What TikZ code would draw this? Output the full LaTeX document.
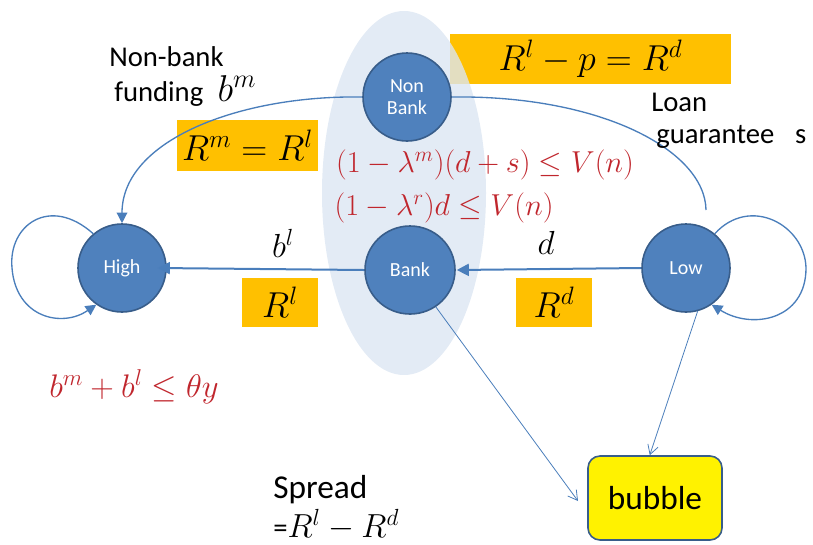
\RequirePackage{fix-cm}
\documentclass[tikz,border=0pt]{standalone}
\usepackage{fontspec}
\setmainfont{Carlito}
\setsansfont{Carlito}
\usetikzlibrary{arrows.meta,shapes.geometric}
\definecolor{nodeblue}{HTML}{4F81BD}
\definecolor{nodeedge}{HTML}{385D8A}
\definecolor{linkblue}{HTML}{4A7EBB}
\definecolor{ovalfill}{HTML}{DCE6F2}
\definecolor{boxorange}{HTML}{FFC000}
\definecolor{mathred}{HTML}{C0262D}
\tikzset{
  agent/.style={ellipse,fill=nodeblue,draw=nodeedge,line width=1.2pt,text=white,align=center,inner sep=0pt,font=\fontsize{15}{16}\selectfont},
  obox/.style={fill=boxorange,draw=none,inner sep=0pt,font=\fontsize{27}{30}\selectfont},
  flow/.style={draw=linkblue,line width=1.5pt,-{Triangle[length=9pt,width=9pt]}},
  curveflow/.style={draw=linkblue,line width=1pt},
  thin/.style={draw=linkblue,line width=0.6pt,-{Straight Barb[length=7pt,width=8pt]}},
  lbl/.style={inner sep=0pt,font=\fontsize{21.5}{24}\selectfont},
  redm/.style={inner sep=0pt,text=mathred,font=\fontsize{22.7}{26}\selectfont}
}
\begin{document}
\begin{tikzpicture}[x=0.75pt,y=-0.75pt]
\useasboundingbox (0,0) rectangle (813,544);
% orange boxes
\node[obox,minimum width=281*0.75pt,minimum height=50*0.75pt] (eqtop) at (590.5,59) {$R^l-p=R^d$};
\node[obox,minimum width=141*0.75pt,minimum height=51*0.75pt] (eqm) at (247.5,145.5) {$R^m=R^l$};
\node[obox,minimum width=76*0.75pt,minimum height=49*0.75pt] (rl) at (280,302.5) {$R^l$};
\node[obox,minimum width=76*0.75pt,minimum height=49*0.75pt] (rd) at (554,302.5) {$R^d$};
% oval
\fill[ovalfill,opacity=0.8] (404,193) ellipse [x radius=82,y radius=182];
% agents
\node[agent,minimum width=88*0.75pt,minimum height=88*0.75pt] (nonbank) at (407,97) {Non\\[1pt]Bank};
\node[agent,minimum width=88*0.75pt,minimum height=88*0.75pt] (high) at (122,268) {High};
\node[agent,minimum width=90*0.75pt,minimum height=88*0.75pt] (bank) at (410,270) {Bank};
\node[agent,minimum width=88*0.75pt,minimum height=88*0.75pt] (low) at (686,268) {Low};
\node[draw=nodeedge,line width=1.2pt,fill=yellow,rounded corners=9pt,minimum width=134*0.75pt,minimum height=84*0.75pt,font=\fontsize{25}{28}\selectfont] (bubble) at (655,498) {bubble};
% connectors
\coordinate (gend) at (706,210);
\draw[flow] (bank.west) -- ([xshift=-9*0.75pt]high.east);
\draw[flow] (low.west) -- ([xshift=1*0.75pt]bank.east);
\draw[curveflow,-{Triangle[length=8pt,width=8pt]}] (nonbank.west) .. controls (240,95) and (122,140) .. (high.north);
\draw[curveflow] (nonbank.east) .. controls (600,95) and (705,150) .. (gend);
\draw[curveflow,-{Triangle[length=8pt,width=8pt]}] (high.130) .. controls (50,195) and (8,225) .. (12,268) .. controls (16,318) and (62,328) .. (high.235);
\draw[curveflow,-{Triangle[length=8pt,width=8pt]}] (low.50) .. controls (750,195) and (805,225) .. (806,268) .. controls (806,320) and (752,330) .. (low.-55);
\draw[thin] (bank.-55) -- (578,501);
\draw[thin] (low.-75) -- (bubble.97);
% labels
\node[lbl,anchor=west] (nbf1) at (109,57) {Non-bank};
\node[lbl,anchor=west] (nbf2) at (114,91) {funding\enspace\fontsize{28}{30}\selectfont$b^m$};
\node[lbl,anchor=west] (loan1) at (651,102) {Loan};
\node[lbl,anchor=west] (loan2) at (656,137) {guarantee\enspace\ s};
\node[redm] (c1) at (485,165) {$(1-\lambda^m)(d+s)\le V(n)$};
\node[redm] (c2) at (444,208) {$(1-\lambda^r)d\le V(n)$};
\node[inner sep=0pt,font=\fontsize{25}{30}\selectfont] (bl) at (283,243) {$b^l$};
\node[inner sep=0pt,font=\fontsize{25}{30}\selectfont] (dl) at (546,243) {$d$};
\node[redm,font=\fontsize{24.5}{28}\selectfont] (c3) at (134,387) {$b^m+b^l\le\theta y$};
\node[lbl,anchor=west,font=\fontsize{25}{28}\selectfont] (sp1) at (273,490) {Spread};
\node[lbl,anchor=west] (sp2) at (273,525) {=\fontsize{25}{30}\selectfont$R^l-R^d$};
\end{tikzpicture}
\end{document}
